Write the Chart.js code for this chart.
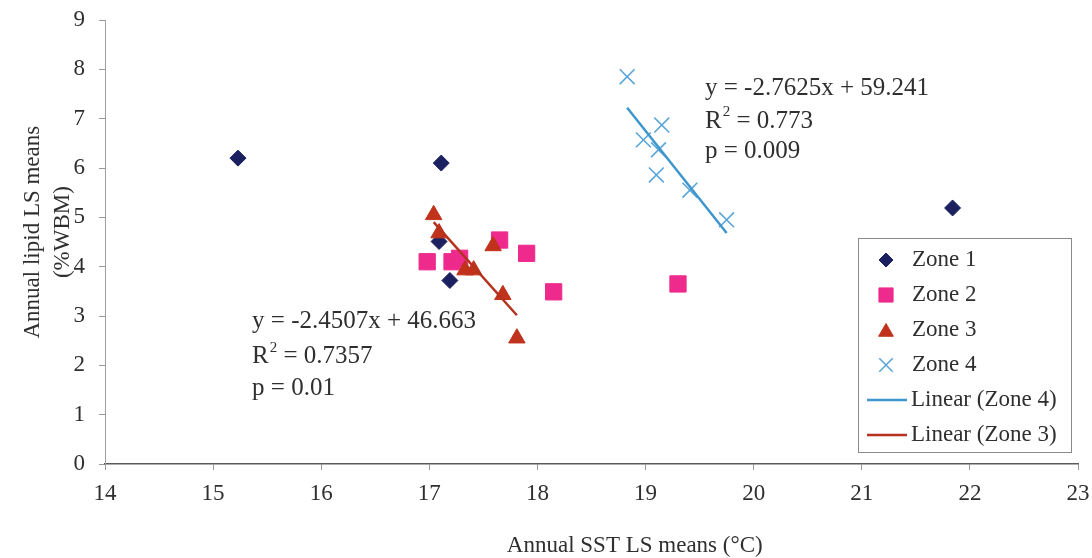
<!DOCTYPE html>
<html>
<head>
<meta charset="utf-8">
<script src="https://cdn.jsdelivr.net/npm/chart.js@4.4.1/dist/chart.umd.min.js"></script>
<style>
  html, body { margin: 0; padding: 0; background: #ffffff; }
  #wrap { width: 1092px; height: 558px; }
</style>
</head>
<body>
<div id="wrap"><canvas id="c" width="1092" height="558"></canvas></div>
<script>
// Annual SST LS means (°C) vs annual lipid LS means (%WBM), by zone
const zone1X = [15.23, 17.11, 17.09, 17.19, 21.84];
const zone1Y = [6.20, 6.10, 4.51, 3.72, 5.19];

const zone2X = [16.98, 17.21, 17.28, 17.65, 17.90, 18.15, 19.30];
const zone2Y = [4.10, 4.10, 4.17, 4.54, 4.27, 3.49, 3.65];

const zone3X = [17.04, 17.09, 17.33, 17.41, 17.59, 17.68, 17.81];
const zone3Y = [5.05, 4.68, 3.93, 3.93, 4.42, 3.43, 2.55];

const zone4X = [18.83, 19.15, 18.98, 19.12, 19.10, 19.41, 19.75];
const zone4Y = [7.85, 6.87, 6.57, 6.37, 5.86, 5.55, 4.95];

// Fitted linear trends: [slope, intercept, R², p]
const fitZone3 = [-2.4507, 46.663, '0.7357', '0.01'];
const fitZone4 = [-2.7625, 59.241, '0.773', '0.009'];

const xTicks = [14, 15, 16, 17, 18, 19, 20, 21, 22, 23];
const yTicks = [0, 1, 2, 3, 4, 5, 6, 7, 8, 9];

const seriesNames = ['Zone 1', 'Zone 2', 'Zone 3', 'Zone 4', 'Linear (Zone 4)', 'Linear (Zone 3)'];

const FONT = '"Liberation Serif", "Times New Roman", serif';
const TEXT = '#2f2f2f';

function pts(xs, ys) { return xs.map((x, i) => ({ x: x, y: ys[i] })); }
function trend(fit, xs) {
  const lo = Math.min(...xs), hi = Math.max(...xs);
  return [{ x: lo, y: fit[0] * lo + fit[1] }, { x: hi, y: fit[0] * hi + fit[1] }];
}

const C_Z1 = '#1b2160';
const C_Z2 = '#ee2a8c';
const C_Z3 = '#c0321c';
const C_Z4 = '#5aa6d8';
const C_L4 = '#3f96cc';
const C_L3 = '#b5321e';

const datasets = [
  { label: seriesNames[0], data: pts(zone1X, zone1Y), pointStyle: 'rectRot', pointRadius: 8,
    backgroundColor: C_Z1, borderColor: C_Z1, borderWidth: 1, showLine: false, order: 2 },
  { label: seriesNames[1], data: pts(zone2X, zone2Y), pointStyle: 'rect', pointRadius: 11.5,
    backgroundColor: C_Z2, borderColor: C_Z2, borderWidth: 1, showLine: false, order: 3 },
  { label: seriesNames[2], data: pts(zone3X, zone3Y), pointStyle: 'triangle', pointRadius: 9.5,
    backgroundColor: C_Z3, borderColor: C_Z3, borderWidth: 1, showLine: false, order: 1 },
  { label: seriesNames[3], data: pts(zone4X, zone4Y), pointStyle: 'crossRot', pointRadius: 10.5,
    backgroundColor: C_Z4, borderColor: C_Z4, borderWidth: 1.6, showLine: false, order: 1 },
  { label: seriesNames[4], type: 'line', data: trend(fitZone4, zone4X), borderColor: C_L4,
    borderWidth: 2.5, pointRadius: 0, showLine: true, fill: false, order: 0 },
  { label: seriesNames[5], type: 'line', data: trend(fitZone3, zone3X), borderColor: C_L3,
    borderWidth: 2.5, pointRadius: 0, showLine: true, fill: false, order: 0 }
];

function fmtEq(fit) {
  return 'y = ' + fit[0].toFixed(4) + 'x + ' + fit[1].toFixed(3);
}

// Draws the fit annotation (equation, R² with superscript, p value)
function drawFitText(ctx, x, y, lh, fit) {
  ctx.save();
  ctx.fillStyle = TEXT;
  ctx.textBaseline = 'middle';
  ctx.textAlign = 'left';
  ctx.font = '25px ' + FONT;
  ctx.fillText(fmtEq(fit), x, y);
  const y2 = y + lh;
  ctx.fillText('R', x, y2);
  const rw = ctx.measureText('R').width;
  ctx.font = '15px ' + FONT;
  ctx.fillText('2', x + rw + 1, y2 - 9);
  const sw = ctx.measureText('2').width;
  ctx.font = '25px ' + FONT;
  ctx.fillText(' = ' + fit[2], x + rw + sw + 1, y2);
  ctx.fillText('p = ' + fit[3], x, y + 2 * lh - 3);
  ctx.restore();
}

const overlay = {
  id: 'overlay',
  afterDatasetsDraw(chart) {
    const ctx = chart.ctx;
    const xs = chart.scales.x, ys = chart.scales.y;

    // axis titles
    ctx.save();
    ctx.fillStyle = TEXT;
    ctx.font = '23px ' + FONT;
    ctx.textAlign = 'center';
    ctx.textBaseline = 'middle';
    ctx.fillText('Annual SST LS means (°C)', xs.getPixelForValue(18.9), 546);
    const yc = ys.getPixelForValue(4.7);
    ctx.translate(33, yc);
    ctx.rotate(-Math.PI / 2);
    ctx.fillText('Annual lipid LS means', 0, 0);
    ctx.fillText('(%WBM)', 0, 30);
    ctx.restore();

    // fit annotations
    drawFitText(ctx, xs.getPixelForValue(15.36), ys.getPixelForValue(2.88), 35, fitZone3);
    drawFitText(ctx, xs.getPixelForValue(19.55), ys.getPixelForValue(7.62), 33, fitZone4);

    // legend box
    const L = 858, T = 238, W = 213, H = 214;
    ctx.save();
    ctx.fillStyle = '#ffffff';
    ctx.fillRect(L, T, W, H);
    ctx.strokeStyle = '#8a8a8a';
    ctx.lineWidth = 1;
    ctx.strokeRect(L + 0.5, T + 0.5, W, H);
    const rows = [260, 295, 330, 365, 400, 435];
    ctx.font = '23px ' + FONT;
    ctx.textBaseline = 'middle';
    ctx.textAlign = 'left';
    chart.data.datasets.forEach((ds, i) => {
      const cy = rows[i];
      if (ds.type === 'line') {
        ctx.strokeStyle = ds.borderColor;
        ctx.lineWidth = 2.5;
        ctx.beginPath();
        ctx.moveTo(867, cy);
        ctx.lineTo(907, cy);
        ctx.stroke();
        ctx.fillStyle = TEXT;
        ctx.fillText(ds.label, 911, cy);
      } else {
        ctx.fillStyle = ds.backgroundColor;
        ctx.strokeStyle = ds.borderColor;
        ctx.lineWidth = ds.borderWidth;
        const r = ds.pointStyle === 'rect' ? 10 : ds.pointStyle === 'triangle' ? 8.5 :
                  ds.pointStyle === 'crossRot' ? 9.5 : 7;
        const oy = ds.pointStyle === 'triangle' ? 2 : 0;
        Chart.helpers.drawPoint(ctx, { pointStyle: ds.pointStyle, radius: r, rotation: 0,
          borderWidth: ds.borderWidth }, 886, cy + oy);
        ctx.fillStyle = TEXT;
        ctx.fillText(ds.label, 912, cy);
      }
    });
    ctx.restore();
  }
};

new Chart(document.getElementById('c'), {
  type: 'scatter',
  data: { datasets: datasets },
  options: {
    responsive: false,
    animation: false,
    layout: { padding: { left: 0, right: 14, top: 20, bottom: 0 } },
    plugins: { legend: { display: false }, tooltip: { enabled: false } },
    scales: {
      x: {
        type: 'linear', min: xTicks[0], max: xTicks[xTicks.length - 1],
        afterBuildTicks(s) { s.ticks = xTicks.map(v => ({ value: v })); },
        afterFit(s) { s.height = 94; s.paddingLeft = 0; s.paddingRight = 0; },
        ticks: { color: TEXT, font: { family: FONT, size: 23 }, padding: 10, maxRotation: 0 },
        grid: { drawOnChartArea: false, drawTicks: true, tickLength: 6, color: '#9a9a9a' },
        border: { color: '#5a5a5a', width: 1.5 }
      },
      y: {
        type: 'linear', min: yTicks[0], max: yTicks[yTicks.length - 1],
        afterBuildTicks(s) { s.ticks = yTicks.map(v => ({ value: v })); },
        afterFit(s) { s.width = 105; s.paddingTop = 0; s.paddingBottom = 0; },
        ticks: { color: TEXT, font: { family: FONT, size: 23 }, padding: 14 },
        grid: { drawOnChartArea: false, drawTicks: true, tickLength: 6, color: '#9a9a9a' },
        border: { color: '#a0a0a0', width: 1 }
      }
    }
  },
  plugins: [overlay]
});
</script>
</body>
</html>
